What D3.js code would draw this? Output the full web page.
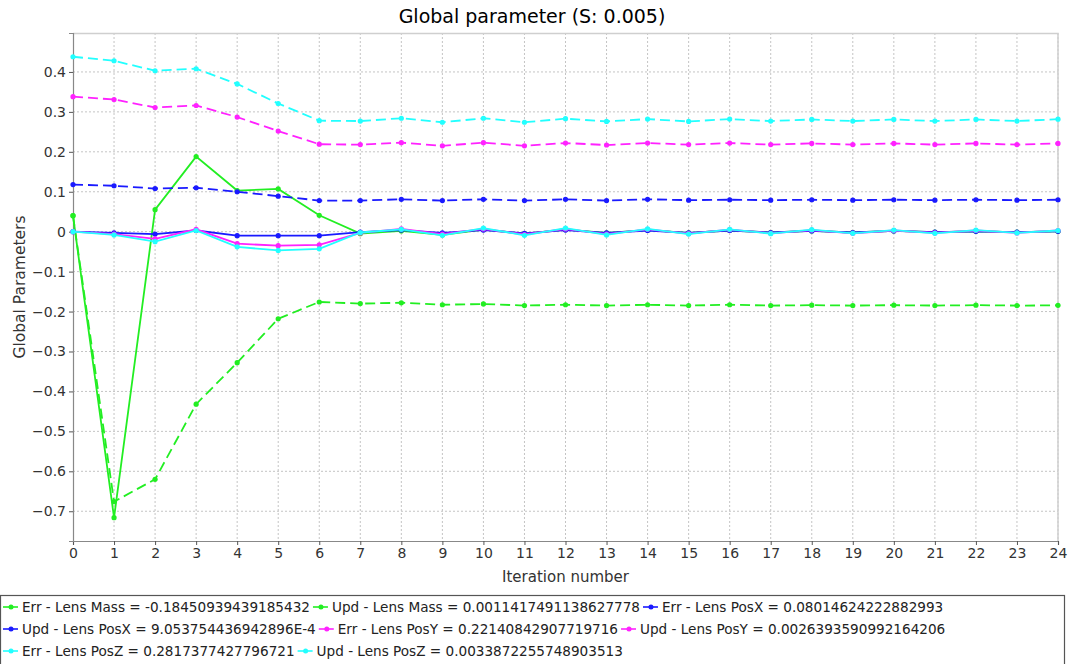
<!DOCTYPE html>
<html>
<head>
<meta charset="utf-8">
<script src="https://cdn.jsdelivr.net/npm/d3@7"></script>
<style>
  body { margin: 0; background: #fff; }
  svg { font-family: "DejaVu Sans", sans-serif; }
</style>
</head>
<body>
<div id="chart"></div>
<script>
// Iterations on the x axis
var iterations = d3.range(0, 25);

// Values, one array per series
var errMass = [0.04, -0.676, -0.62, -0.432, -0.328, -0.218, -0.176, -0.18, -0.178, -0.183, -0.181, -0.185, -0.183, -0.185, -0.183, -0.185, -0.183, -0.185, -0.184, -0.185, -0.184, -0.185, -0.184, -0.185, -0.1845];
var updMass = [0.04, -0.716, 0.055, 0.188, 0.103, 0.107, 0.041, -0.005, 0.002, -0.008, 0.005, -0.005, 0.005, -0.003, 0.004, -0.003, 0.003, -0.002, 0.002, -0.002, 0.002, -0.001, 0.001, -0.001, 0.001];
var errPosX = [0.118, 0.115, 0.108, 0.11, 0.1, 0.089, 0.078, 0.078, 0.081, 0.078, 0.081, 0.078, 0.081, 0.078, 0.081, 0.079, 0.08, 0.079, 0.08, 0.079, 0.08, 0.079, 0.08, 0.079, 0.080];
var updPosX = [0, -0.003, -0.006, 0.003, -0.01, -0.01, -0.01, -0.001, 0.004, -0.003, 0.004, -0.004, 0.004, -0.003, 0.003, -0.003, 0.003, -0.002, 0.002, -0.002, 0.002, -0.001, 0.001, -0.001, 0.001];
var errPosY = [0.338, 0.331, 0.311, 0.316, 0.287, 0.252, 0.219, 0.218, 0.223, 0.215, 0.223, 0.215, 0.222, 0.217, 0.222, 0.218, 0.222, 0.218, 0.221, 0.218, 0.221, 0.218, 0.221, 0.218, 0.221];
var updPosY = [0, -0.006, -0.018, 0.006, -0.03, -0.035, -0.033, -0.003, 0.007, -0.006, 0.007, -0.007, 0.007, -0.006, 0.006, -0.005, 0.005, -0.004, 0.004, -0.004, 0.003, -0.003, 0.003, -0.003, 0.003];
var errPosZ = [0.438, 0.428, 0.403, 0.408, 0.37, 0.321, 0.278, 0.277, 0.284, 0.274, 0.284, 0.274, 0.283, 0.276, 0.282, 0.276, 0.282, 0.277, 0.281, 0.277, 0.281, 0.277, 0.281, 0.277, 0.2817];
var updPosZ = [0, -0.008, -0.025, 0.003, -0.038, -0.047, -0.043, -0.002, 0.006, -0.009, 0.009, -0.009, 0.009, -0.008, 0.007, -0.006, 0.006, -0.005, 0.005, -0.004, 0.004, -0.004, 0.004, -0.003, 0.003];

var yTicks = [-0.7, -0.6, -0.5, -0.4, -0.3, -0.2, -0.1, 0, 0.1, 0.2, 0.3, 0.4];

var seriesNames = [
  "Err - Lens Mass = -0.18450939439185432",
  "Upd - Lens Mass = 0.0011417491138627778",
  "Err - Lens PosX = 0.08014624222882993",
  "Upd - Lens PosX = 9.053754436942896E-4",
  "Err - Lens PosY = 0.22140842907719716",
  "Upd - Lens PosY = 0.0026393590992164206",
  "Err - Lens PosZ = 0.2817377427796721",
  "Upd - Lens PosZ = 0.0033872255748903513"
];
var seriesValues = [errMass, updMass, errPosX, updPosX, errPosY, updPosY, errPosZ, updPosZ];
var seriesColors = ["#22ee22", "#22ee22", "#1a1aff", "#1a1aff", "#ff22ff", "#ff22ff", "#22ffff", "#22ffff"];
var seriesDashed = [true, false, true, false, true, false, true, false];

var W = 1070, H = 664;
var margin = {top: 33, right: 12, bottom: 123, left: 73};
var width = W - margin.left - margin.right,
    height = H - margin.top - margin.bottom;

var svg = d3.select("#chart").append("svg")
  .attr("width", W)
  .attr("height", H);

// Title
svg.append("text")
  .attr("x", 532)
  .attr("y", 23)
  .attr("text-anchor", "middle")
  .style("font-size", "19px")
  .style("fill", "#000")
  .text("Global parameter (S: 0.005)");

var g = svg.append("g")
  .attr("transform", "translate(" + margin.left + "," + margin.top + ")");

var x = d3.scaleLinear().domain([0, 24]).range([0, width]);
var y = d3.scaleLinear().domain([-0.7745, 0.4975]).range([height, 0]);

// Dotted grid
g.append("g")
  .selectAll("line")
  .data(iterations.slice(1))
  .enter().append("line")
    .attr("x1", function(d) { return x(d); })
    .attr("x2", function(d) { return x(d); })
    .attr("y1", 0)
    .attr("y2", height)
    .attr("stroke", "#c4c4c4")
    .attr("stroke-dasharray", "2,2");

g.append("g")
  .selectAll("line")
  .data(yTicks)
  .enter().append("line")
    .attr("x1", 0)
    .attr("x2", width)
    .attr("y1", function(d) { return y(d); })
    .attr("y2", function(d) { return y(d); })
    .attr("stroke", "#c4c4c4")
    .attr("stroke-dasharray", "2,2");

// Plot border (top and right)
g.append("path")
  .attr("d", "M0,0.5H" + width + "V" + height)
  .attr("fill", "none")
  .attr("stroke", "#cfcfcf")
  .attr("stroke-width", 1.5);

// Axes
var xAxis = g.append("g")
  .attr("transform", "translate(0," + height + ")")
  .call(d3.axisBottom(x).tickValues(iterations).tickFormat(d3.format("d")).tickSize(4).tickPadding(3));

var yAxis = g.append("g")
  .call(d3.axisLeft(y).tickValues(yTicks).tickFormat(function(d) { return d === 0 ? "0" : d3.format(".1f")(d); }).tickSize(4).tickPadding(3));

[xAxis, yAxis].forEach(function(a) {
  a.select(".domain").attr("stroke", "#888").attr("stroke-width", 1.2);
  a.selectAll(".tick line").attr("stroke", "#555");
  a.selectAll("text")
    .style("font-family", "DejaVu Sans, sans-serif")
    .style("font-size", "14px")
    .style("fill", "#333");
});

// Axis labels
svg.append("text")
  .attr("x", margin.left + width / 2)
  .attr("y", 582)
  .attr("text-anchor", "middle")
  .style("font-size", "15px")
  .style("fill", "#333")
  .text("Iteration number");

svg.append("text")
  .attr("transform", "translate(25,287) rotate(-90)")
  .attr("text-anchor", "middle")
  .style("font-size", "15.5px")
  .style("fill", "#333")
  .text("Global Parameters");

// Lines and points
var line = d3.line()
  .x(function(d, i) { return x(iterations[i]); })
  .y(function(d) { return y(d); });

seriesValues.forEach(function(vals, s) {
  var sg = g.append("g");
  sg.append("path")
    .datum(vals)
    .attr("d", line)
    .attr("fill", "none")
    .attr("stroke", seriesColors[s])
    .attr("stroke-width", 1.8)
    .attr("stroke-dasharray", seriesDashed[s] ? "10,5" : null);
  sg.selectAll("circle")
    .data(vals)
    .enter().append("circle")
      .attr("cx", function(d, i) { return x(iterations[i]); })
      .attr("cy", function(d) { return y(d); })
      .attr("r", 2.6)
      .attr("fill", seriesColors[s]);
});

// Legend box
var legend = svg.append("g");
legend.append("rect")
  .attr("x", 0.5)
  .attr("y", 595.5)
  .attr("width", 1064)
  .attr("height", 72)
  .attr("fill", "#fff")
  .attr("stroke", "#555")
  .attr("stroke-width", 1.2);

var lx = 3, row = 0, rowH = 22, maxW = 1060;
seriesNames.forEach(function(name, s) {
  var item = legend.append("g");
  item.append("line")
    .attr("x1", 0).attr("x2", 15)
    .attr("y1", 0).attr("y2", 0)
    .attr("stroke", seriesColors[s])
    .attr("stroke-width", 1.6);
  item.append("circle")
    .attr("cx", 8).attr("cy", 0).attr("r", 2.5)
    .attr("fill", seriesColors[s]);
  var t = item.append("text")
    .attr("x", 19)
    .attr("y", 5)
    .style("font-size", "13.6px")
    .style("fill", "#222")
    .text(name);
  var w = 19 + t.node().getComputedTextLength() + 3;
  if (lx + w > maxW) { lx = 3; row += 1; }
  item.attr("transform", "translate(" + lx + "," + (607 + row * rowH) + ")");
  lx += w;
});
</script>
</body>
</html>
